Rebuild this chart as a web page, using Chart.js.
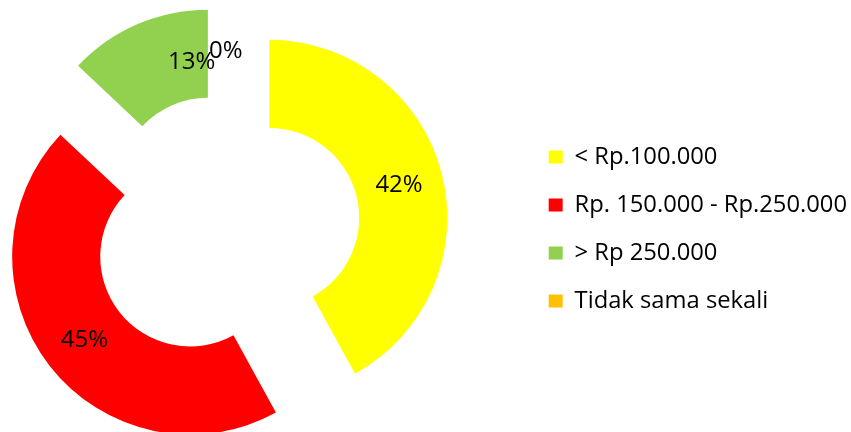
<!DOCTYPE html>
<html lang="id">

<head>
    <meta charset="UTF-8">
    <meta name="viewport" content="width=device-width, initial-scale=1.0">
    <title>Pengeluaran</title>
    <script src="https://cdn.jsdelivr.net/npm/chart.js"></script>
    <style>
        html, body { margin: 0; padding: 0; background: #fff; overflow: hidden; }
        /* wadah digeser ke kiri supaya donat berada di kiri seperti aslinya */
        #wadah { position: absolute; left: -73px; top: 0; width: 930px; height: 432px; }
    </style>
</head>

<body>
    <div id="wadah">
        <canvas id="grafik"></canvas>
    </div>

    <script>
        const kategori = ['< Rp.100.000', 'Rp. 150.000 - Rp.250.000', '> Rp 250.000', 'Tidak sama sekali'];
        const persen = [42, 45, 13, 0];
        const warna = ['#FFFF00', '#FF0000', '#92D050', '#FFC000'];

        const jarakPecah = 45;
        const geserLabel = [[0, 0], [0, 0], [37, -4], [0, 0]];

        // tiap potongan ditarik keluar dengan jarak yang sama
        const pecahSlice = {
            id: 'pecahSlice',
            afterDatasetUpdate(chart, args) {
                args.meta.data.forEach(arc => {
                    const tengah = (arc.startAngle + arc.endAngle) / 2;
                    arc.x += Math.cos(tengah) * jarakPecah;
                    arc.y += Math.sin(tengah) * jarakPecah;
                });
            }
        };

        const labelPersen = {
            id: 'labelPersen',
            afterDatasetsDraw(chart) {
                const ctx = chart.ctx;
                const meta = chart.getDatasetMeta(0);
                ctx.save();
                ctx.font = '24px "Open Sans"';
                ctx.fillStyle = '#000';
                ctx.textAlign = 'center';
                ctx.textBaseline = 'middle';
                meta.data.forEach((arc, i) => {
                    const p = arc.getCenterPoint();
                    ctx.fillText(persen[i] + '%', p.x + geserLabel[i][0], p.y + geserLabel[i][1] + 1);
                });
                ctx.restore();
            }
        };

        const ctx = document.getElementById('grafik').getContext('2d');
        new Chart(ctx, {
            type: 'doughnut',
            data: {
                labels: kategori,
                datasets: [{
                    data: persen,
                    backgroundColor: warna,
                    borderWidth: 0
                }]
            },
            options: {
                responsive: true,
                maintainAspectRatio: false,
                animation: false,
                events: [],
                radius: 178,
                cutout: '50.5%',
                layout: {
                    padding: { top: 26, bottom: 0, left: 0, right: 0 }
                },
                plugins: {
                    tooltip: { enabled: false },
                    legend: {
                        position: 'right',
                        labels: {
                            boxWidth: 14,
                            boxHeight: 13,
                            padding: 24.25,
                            color: '#000',
                            font: { family: "'Open Sans'", size: 23.75 }
                        }
                    }
                }
            },
            plugins: [pecahSlice, labelPersen]
        });
    </script>
</body>

</html>
